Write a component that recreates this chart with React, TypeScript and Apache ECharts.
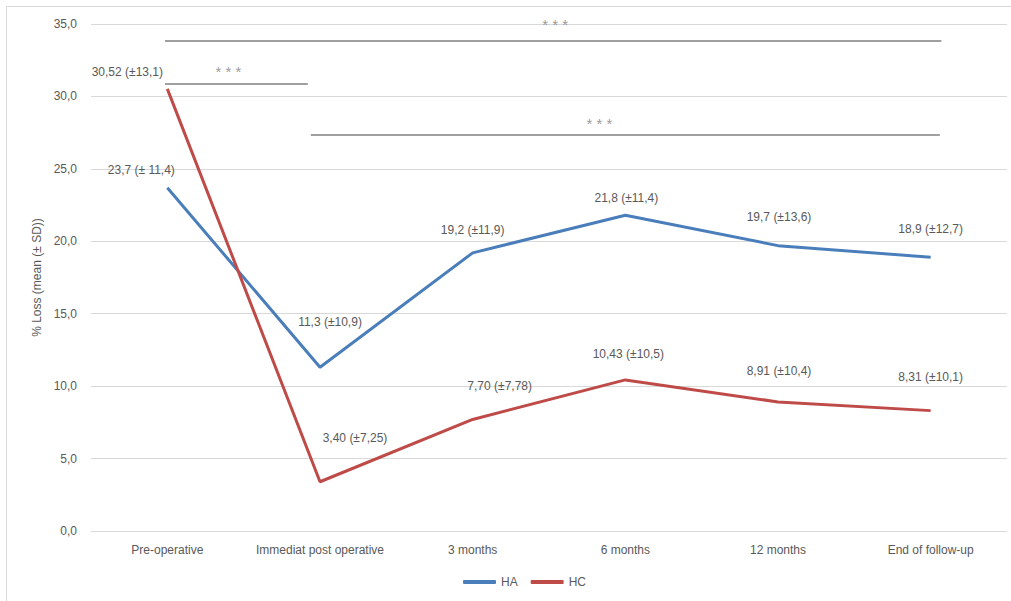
import React, { useEffect, useRef } from "react";
import * as echarts from "echarts";

const categories = [
  "Pre-operative",
  "Immediat post operative",
  "3 months",
  "6 months",
  "12 months",
  "End of follow-up",
];
const haValues = [23.7, 11.3, 19.2, 21.8, 19.7, 18.9];
const haLabels = ["23,7 (± 11,4)", "11,3 (±10,9)", "19,2 (±11,9)", "21,8 (±11,4)", "19,7 (±13,6)", "18,9 (±12,7)"];
const hcValues = [30.52, 3.4, 7.7, 10.43, 8.91, 8.31];
const hcLabels = ["30,52 (±13,1)", "3,40 (±7,25)", "7,70 (±7,78)", "10,43 (±10,5)", "8,91 (±10,4)", "8,31 (±10,1)"];

// significance brackets: [xStart, xEnd, y] in category-band units (0..6) and value units
const sigLines = [
  [0.485, 5.57, 33.83],
  [0.485, 1.42, 30.86],
  [1.44, 5.56, 27.34],
];
const sigStars = [
  [3.04, 35.0],
  [0.9, 31.7],
  [3.33, 28.1],
];

// label offsets (pixels, relative to point)
const haOffsets = [[-26, -18], [10, -45], [0, -23], [1, -17], [1, -29], [0, -28]];
const hcOffsets = [[-40, -17], [35, -44], [27, -33], [3, -26], [1, -31], [0, -34]];

const FONT = "Liberation Sans";
const TXT = "#595959";

export default function App() {
  const ref = useRef<HTMLDivElement>(null);
  useEffect(() => {
    if (!ref.current) return;
    const chart = echarts.init(ref.current, null, { renderer: "svg" });
    const mkData = (vals: number[], labels: string[]) =>
      vals.map((v, i) => ({
        value: v,
        label: { formatter: labels[i] },
      }));
    const mkLayout = (offs: number[][]) => (p: any) => ({
      dx: offs[p.dataIndex][0],
      dy: offs[p.dataIndex][1],
      hideOverlap: false,
    });
    const sigSeries = sigLines.map((l) => ({
      type: "line",
      xAxisIndex: 1,
      data: [
        [l[0], l[2]],
        [l[1], l[2]],
      ],
      symbol: "none",
      lineStyle: { color: "#7f7f7f", width: 1.6 },
      silent: true,
      z: 1,
    }));
    chart.setOption({
      animation: false,
      backgroundColor: "#ffffff",
      textStyle: { fontFamily: FONT },
      graphic: [
        {
          type: "rect",
          shape: { x: 6.5, y: 6.5, width: 1100, height: 700 },
          style: { fill: "none", stroke: "#d9d9d9", lineWidth: 1 },
          silent: true,
          z: -10,
        },
      ],
      grid: { left: 91, right: 4, top: 24, bottom: 70 },
      legend: {
        bottom: 8,
        left: 458,
        itemWidth: 33,
        itemHeight: 4,
        itemGap: 13,
        data: [
          { name: "HA", icon: "roundRect" },
          { name: "HC", icon: "roundRect" },
        ],
        textStyle: { color: TXT, fontSize: 12, fontFamily: FONT },
      },
      xAxis: [
        {
          type: "category",
          data: categories,
          boundaryGap: true,
          axisLine: { show: false },
          axisTick: { show: false },
          axisLabel: { color: TXT, fontSize: 12, margin: 13, fontFamily: FONT, interval: 0 },
        },
        {
          type: "value",
          min: 0,
          max: 6,
          show: false,
        },
      ],
      yAxis: {
        type: "value",
        min: 0,
        max: 35,
        interval: 5,
        name: "% Loss (mean (± SD))",
        nameLocation: "middle",
        nameGap: 45,
        nameTextStyle: { color: TXT, fontSize: 12, fontFamily: FONT },
        axisLine: { show: false },
        axisTick: { show: false },
        axisLabel: {
          color: TXT,
          fontSize: 12,
          margin: 14,
          fontFamily: FONT,
          formatter: (v: number) => v.toFixed(1).replace(".", ","),
        },
        splitLine: { lineStyle: { color: "#d9d9d9", width: 1 } },
      },
      series: [
        {
          name: "HA",
          type: "line",
          data: mkData(haValues, haLabels),
          symbol: "circle",
          symbolSize: 0.01,
          showSymbol: true,
          color: "#4a7ebb",
          lineStyle: { color: "#4a7ebb", width: 3 },
          label: { show: true, position: "inside", color: TXT, fontSize: 12, fontFamily: FONT },
          labelLayout: mkLayout(haOffsets),
          z: 3,
        },
        {
          name: "HC",
          type: "line",
          data: mkData(hcValues, hcLabels),
          symbol: "circle",
          symbolSize: 0.01,
          showSymbol: true,
          color: "#be4b48",
          lineStyle: { color: "#be4b48", width: 3 },
          label: { show: true, position: "inside", color: TXT, fontSize: 12, fontFamily: FONT },
          labelLayout: mkLayout(hcOffsets),
          z: 3,
        },
        ...sigSeries,
        {
          type: "scatter",
          xAxisIndex: 1,
          data: sigStars,
          symbolSize: 0.01,
          silent: true,
          label: {
            show: true,
            position: "inside",
            formatter: "* * *",
            color: "#7f7f7f",
            fontSize: 15,
            fontFamily: FONT,
          },
        },
      ],
    });
    return () => chart.dispose();
  }, []);
  return (
    <div
      ref={ref}
      style={{ position: "fixed", left: 0, top: 0, width: 1011, height: 601, background: "#fff" }}
    />
  );
}
